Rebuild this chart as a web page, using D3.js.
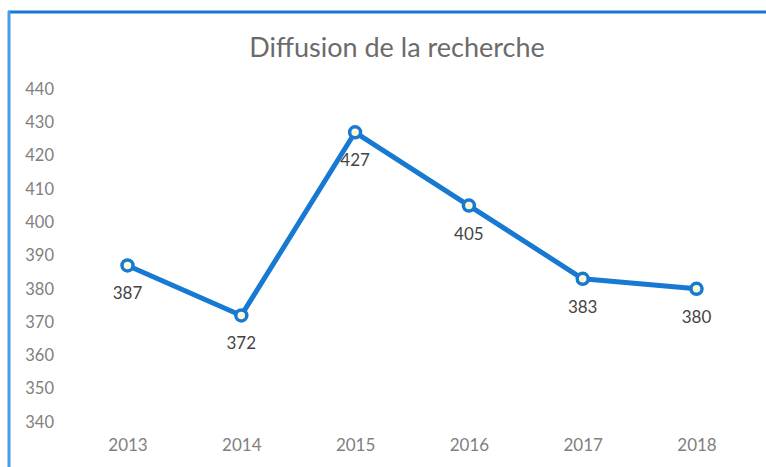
<!DOCTYPE html>
<html>
<head>
<meta charset="utf-8">
<script src="https://cdn.jsdelivr.net/npm/d3@7"></script>
<style>
  html, body { margin: 0; padding: 0; background: #fff; }
  svg { display: block; }
</style>
</head>
<body>
<div id="container"></div>
<script>
const title = "Diffusion de la recherche";
const years = ["2013", "2014", "2015", "2016", "2017", "2018"];
const values = [387, 372, 427, 405, 383, 380];
const yTicks = [340, 350, 360, 370, 380, 390, 400, 410, 420, 430, 440];

function drawChart() {
	const width = 766;
	const height = 467;
	const blue = "#1779d1";

	const svg = d3.select("#container")
		.append("svg")
		.attr("width", width)
		.attr("height", height);

	// frame lines (top and left)
	svg.append("line")
		.attr("x1", 8).attr("x2", width)
		.attr("y1", 12).attr("y2", 12)
		.attr("stroke", blue)
		.attr("stroke-width", 3);
	svg.append("line")
		.attr("x1", 9).attr("x2", 9)
		.attr("y1", 11).attr("y2", height)
		.attr("stroke", "#4a9ce6")
		.attr("stroke-width", 3);

	const x = d3.scalePoint()
		.domain(years)
		.range([70.6, 753.4])
		.padding(0.5);

	const y = d3.scaleLinear()
		.domain([340, 440])
		.range([422, 89]);

	svg.append("text")
		.attr("x", 397)
		.attr("y", 57)
		.attr("text-anchor", "middle")
		.attr("font-family", "Lato, 'Open Sans', sans-serif")
		.attr("font-size", 27)
		.attr("fill", "#6b6b6b")
		.text(title);

	const yAxis = d3.axisLeft(y)
		.tickValues(yTicks)
		.tickSize(0)
		.tickPadding(0);

	const gy = svg.append("g")
		.attr("transform", "translate(54,0)")
		.call(yAxis);
	gy.select(".domain").remove();
	gy.selectAll("text")
		.attr("font-family", "Lato, sans-serif")
		.attr("font-size", 16.5)
		.attr("fill", "#808080");

	const xAxis = d3.axisBottom(x)
		.tickSize(0)
		.tickPadding(0);

	const gx = svg.append("g")
		.attr("transform", "translate(0,439)")
		.call(xAxis);
	gx.select(".domain").remove();
	gx.selectAll("text")
		.attr("font-family", "Lato, sans-serif")
		.attr("font-size", 17)
		.attr("fill", "#808080");

	const points = years.map((yr, i) => ({ year: yr, value: values[i] }));

	const line = d3.line()
		.x((d) => x(d.year))
		.y((d) => y(d.value));

	svg.append("path")
		.attr("d", line(points))
		.attr("fill", "none")
		.attr("stroke", blue)
		.attr("stroke-width", 5)
		.attr("stroke-linejoin", "round");

	svg.append("g")
		.selectAll("circle")
		.data(points)
		.enter()
		.append("circle")
		.attr("cx", (d) => x(d.year))
		.attr("cy", (d) => y(d.value))
		.attr("r", 5.5)
		.attr("fill", "#fbf8d8")
		.attr("stroke", blue)
		.attr("stroke-width", 3.5);

	svg.append("g")
		.selectAll("text")
		.data(points)
		.enter()
		.append("text")
		.attr("x", (d) => x(d.year))
		.attr("y", (d) => y(d.value) + 34)
		.attr("text-anchor", "middle")
		.attr("font-family", "Lato, sans-serif")
		.attr("font-size", 17)
		.attr("fill", "#444444")
		.text((d) => d.value);
}

drawChart();
</script>
</body>
</html>
